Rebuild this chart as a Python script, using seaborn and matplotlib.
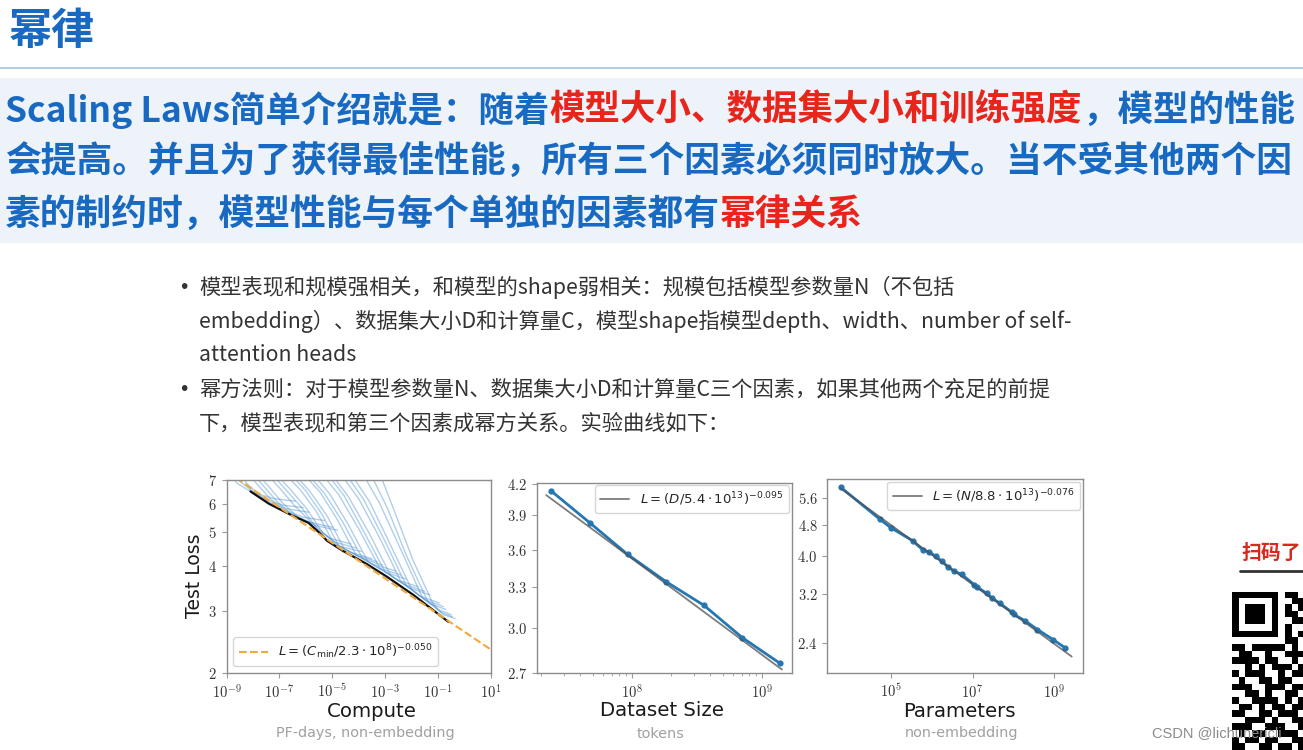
import numpy as np
import pandas as pd
import matplotlib
matplotlib.use("Agg")
import matplotlib.pyplot as plt
from matplotlib.font_manager import FontProperties
from matplotlib.lines import Line2D
from matplotlib.patches import Rectangle
from matplotlib.ticker import FixedLocator, LogLocator, NullLocator, NullFormatter
import seaborn as sns

W, H = 1303, 750
BLUE_TXT = "#1769c1"
RED_TXT = "#e8241b"

# ---- slide text ----
TITLE = "幂律"
BANNER_RUNS = [
    [("Scaling Laws简单介绍就是：随着", BLUE_TXT), ("模型大小、数据集大小和训练强度", RED_TXT), ("，模型的性能", BLUE_TXT)],
    [("会提高。并且为了获得最佳性能，所有三个因素必须同时放大。当不受其他两个因", BLUE_TXT)],
    [("素的制约时，模型性能与每个单独的因素都有", BLUE_TXT), ("幂律关系", RED_TXT)],
]
BULLET_LINES = [
    "模型表现和规模强相关，和模型的shape弱相关：规模包括模型参数量N（不包括",
    "embedding）、数据集大小D和计算量C，模型shape指模型depth、width、number of self-",
    "attention heads",
    "幂方法则：对于模型参数量N、数据集大小D和计算量C三个因素，如果其他两个充足的前提",
    "下，模型表现和第三个因素成幂方关系。实验曲线如下：",
]
BULLET_MARK = [True, False, False, True, False]

# ---- panel 1: compute ----
FRONTIER_LOGC = [-8.1, -7.4, -6.5, -5.9, -5.5, -5.2, -4.6, -3.7, -2.94, -1.93, -0.61]
FRONTIER_LOSS = [6.5, 6.0, 5.55, 5.3, 4.98, 4.72, 4.42, 4.06, 3.74, 3.32, 2.79]
COMPUTE_FIT_C = [1e-9, 1e1]
COMPUTE_FIT_LOSS = [7.38, 2.33]
RUN_LOGC = [
    [-8.9, -8.6, -8.25, -7.9, -7.2, -6.4],
    [-8.72, -8.4, -8.0, -7.6, -6.9, -6.1],
    [-8.55, -8.2, -7.8, -7.4, -6.7, -5.9],
    [-8.2, -7.8, -7.35, -6.85, -6.1, -5.3],
    [-8.0, -7.6, -7.1, -6.6, -5.85, -5.0],
    [-7.85, -7.4, -6.9, -6.3, -5.6, -4.8],
    [-7.5, -7.0, -6.45, -5.8, -5.1, -4.3],
    [-7.3, -6.8, -6.2, -5.55, -4.9, -4.1],
    [-7.15, -6.6, -6.0, -5.35, -4.7, -3.9],
    [-6.8, -6.2, -5.6, -4.95, -4.3, -3.5],
    [-6.6, -6.0, -5.4, -4.75, -4.1, -3.3],
    [-6.45, -5.85, -5.2, -4.55, -3.9, -3.1],
    [-6.1, -5.45, -4.8, -4.1, -3.45, -2.6],
    [-5.95, -5.3, -4.6, -3.85, -3.2, -2.4],
    [-5.75, -5.1, -4.4, -3.65, -3.0, -2.2],
    [-5.4, -4.75, -4.0, -3.2, -2.55, -1.75],
    [-5.2, -4.55, -3.8, -3.0, -2.3, -1.5],
    [-5.05, -4.4, -3.6, -2.8, -2.1, -1.3],
    [-4.7, -4.0, -3.2, -2.4, -1.7, -0.95],
    [-4.5, -3.8, -3.0, -2.2, -1.5, -0.8],
    [-4.3, -3.6, -2.8, -2.0, -1.35, -0.7],
    [-3.85, -3.2, -2.4, -1.6, -1.0, -0.5],
    [-3.55, -2.9, -2.2, -1.4, -0.9, -0.45],
    [-3.2, -2.6, -1.95, -1.2, -0.8, -0.35],
]
RUN_LOSS = [
    [7.3, 6.85, 6.6, 6.42, 6.2, 6.1],
    [7.3, 6.85, 6.5, 6.2, 5.95, 5.85],
    [7.3, 6.8, 6.4, 6.06, 5.8, 5.68],
    [7.3, 6.75, 6.2, 5.78, 5.5, 5.38],
    [7.3, 6.72, 6.1, 5.65, 5.32, 5.15],
    [7.3, 6.7, 6.05, 5.5, 5.2, 5.05],
    [7.3, 6.65, 5.95, 5.32, 4.8, 4.62],
    [7.3, 6.62, 5.9, 5.08, 4.68, 4.5],
    [7.3, 6.6, 5.85, 4.95, 4.55, 4.4],
    [7.3, 6.55, 5.7, 4.65, 4.38, 4.2],
    [7.3, 6.52, 5.62, 4.56, 4.3, 4.12],
    [7.3, 6.5, 5.55, 4.48, 4.22, 4.03],
    [7.3, 6.45, 5.4, 4.3, 4.05, 3.88],
    [7.3, 6.42, 5.32, 4.2, 3.94, 3.78],
    [7.3, 6.4, 5.25, 4.12, 3.85, 3.68],
    [7.3, 6.35, 5.1, 3.95, 3.66, 3.5],
    [7.3, 6.32, 5.0, 3.86, 3.56, 3.4],
    [7.3, 6.3, 4.95, 3.78, 3.48, 3.32],
    [7.3, 6.2, 4.8, 3.62, 3.3, 3.15],
    [7.3, 6.15, 4.7, 3.53, 3.22, 3.08],
    [7.3, 6.1, 4.6, 3.45, 3.15, 3.02],
    [7.3, 6.0, 4.45, 3.28, 3.02, 2.92],
    [7.3, 5.8, 4.3, 3.2, 2.97, 2.88],
    [7.3, 5.6, 4.17, 3.15, 2.92, 2.85],
]
COMPUTE_XTICK_EXP = [-9, -7, -5, -3, -1, 1]
COMPUTE_YTICKS = [2, 3, 4, 5, 6, 7]

# ---- panel 2: dataset size ----
TOKENS = [2.4e7, 4.8e7, 9.3e7, 1.84e8, 3.6e8, 7.1e8, 1.38e9]
TOKENS_LOSS = [4.13, 3.83, 3.56, 3.34, 3.16, 2.93, 2.76]
TOKENS_FIT_X = [2.2e7, 1.43e9]
TOKENS_FIT_LOSS = [4.09, 2.72]
TOKENS_XTICK_EXP = [8, 9]
TOKENS_YTICKS = [2.7, 3.0, 3.3, 3.6, 3.9, 4.2]

# ---- panel 3: parameters ----
PARAMS = [5.9e3, 5.4e4, 9.8e4, 3.5e5, 6.2e5, 8.7e5, 1.26e6, 1.74e6, 2.5e6, 3.5e6, 5.4e6,
          1.1e7, 1.26e7, 2.24e7, 2.95e7, 4.7e7, 9.1e7, 1.02e8, 1.9e8, 3.9e8, 9.5e8, 1.82e9]
PARAMS_LOSS = [5.97, 4.95, 4.72, 4.36, 4.13, 4.09, 3.99, 3.88, 3.75, 3.66, 3.59,
               3.38, 3.34, 3.21, 3.13, 3.03, 2.88, 2.84, 2.74, 2.60, 2.45, 2.34]
PARAMS_FIT_X = [5.9e3, 2.7e9]
PARAMS_FIT_LOSS = [5.93, 2.22]
PARAMS_XTICK_EXP = [5, 7, 9]
PARAMS_YTICKS = [2.4, 3.2, 4.0, 4.8, 5.6]

# rough QR overlay in the corner (11 x 24 modules)
QR_ROWS = [
    "11111110110", "10000010011", "10111010101", "10111010110", "10111010011",
    "10000010100", "11111110101", "00000000110", "11011111010", "01100100111",
    "11110110010", "00101011101", "10111001011", "01001101100", "11100111011",
    "00110100110", "10011110101", "01101011011", "11001101110", "00111010011",
    "11100111001", "01011001110", "10110110011", "11001101101",
]

sns.set_theme(style="white")
plt.rcParams["font.family"] = ["Noto Sans CJK SC", "DejaVu Sans"]
plt.rcParams["mathtext.fontset"] = "cm"

fig = plt.figure(figsize=(W / 100, H / 100), dpi=100)
fig.patch.set_facecolor("white")
renderer = fig.canvas.get_renderer()


def fx(x):
    return x / W


def fy(y):
    return 1 - y / H


def px_axes(l, t, r, b):
    return fig.add_axes([fx(l), fy(b), (r - l) / W, (b - t) / H])


def runs_width(runs, size):
    total = 0
    for txt, _ in runs:
        t = fig.text(0, 0, txt, fontsize=size, fontweight="bold")
        total += t.get_window_extent(renderer=renderer).width
        t.remove()
    return total


def text_runs(x, y, runs, **kw):
    for txt, color in runs:
        t = fig.text(fx(x), fy(y), txt, color=color, ha="left", va="center", **kw)
        x += t.get_window_extent(renderer=renderer).width


# ---- header ----
fig.text(fx(9), fy(31), TITLE, color=BLUE_TXT, fontsize=31, fontweight="bold", va="center")
fig.add_artist(Line2D([0, 1], [fy(68), fy(68)], color="#a8c3dc", lw=1.2))
fig.add_artist(Rectangle((0, fy(243)), 1, (243 - 78) / H, color="#eef3f9", lw=0))

# banner lines fitted to the slide width
base = 26.0
size_main = base * 1288 / runs_width(BANNER_RUNS[1], base)
size_first = min(size_main, size_main * 1288 / runs_width(BANNER_RUNS[0], size_main))
for i, runs in enumerate(BANNER_RUNS):
    text_runs(5, 110 + 52 * i, runs, fontsize=size_first if i == 0 else size_main, fontweight="bold")

for i, line in enumerate(BULLET_LINES):
    y = 287 + 34.2 * i
    if BULLET_MARK[i]:
        fig.text(fx(178), fy(y), "•", color="#333333", fontsize=14, family="DejaVu Sans", va="center")
    fig.text(fx(199), fy(y), line, color="#333333", fontsize=15.3, va="center")


def style_axes(ax, xtick_exp, yticks, ylabels, minor_x=False):
    ax.set_xscale("log")
    ax.set_yscale("log")
    ax.xaxis.set_major_locator(FixedLocator([10.0 ** e for e in xtick_exp]))
    ax.set_xticklabels([rf"$10^{{{e}}}$" for e in xtick_exp])
    if minor_x:
        ax.xaxis.set_minor_locator(LogLocator(base=10, subs=np.arange(2, 10)))
    else:
        ax.xaxis.set_minor_locator(NullLocator())
    ax.xaxis.set_minor_formatter(NullFormatter())
    ax.yaxis.set_major_locator(FixedLocator(yticks))
    ax.set_yticklabels(ylabels)
    ax.yaxis.set_minor_locator(NullLocator())
    ax.yaxis.set_minor_formatter(NullFormatter())
    ax.tick_params(which="both", direction="out", colors="#999999", labelcolor="#333333",
                   labelsize=10.5, bottom=True, left=True)
    ax.tick_params(which="major", length=3.5, width=0.8)
    ax.tick_params(which="minor", length=2, width=0.6)
    for sp in ax.spines.values():
        sp.set_color("#8c8c8c")
        sp.set_linewidth(1.0)
    ax.set_xlabel("")
    ax.set_ylabel("")


legend_prop = FontProperties(family="DejaVu Sans", size=9.5, math_fontfamily="dejavusans")

# ---- panel 1 ----
ax1 = px_axes(226.7, 480, 490.7, 673)
runs = pd.DataFrame({
    "run": np.repeat(np.arange(len(RUN_LOGC)), [len(r) for r in RUN_LOGC]),
    "compute": 10.0 ** np.concatenate(RUN_LOGC),
    "loss": np.concatenate(RUN_LOSS),
})
ax1.set_xscale("log")
ax1.set_yscale("log")
sns.lineplot(data=runs, x="compute", y="loss", units="run", estimator=None, sort=False,
             color="#3b86cc", lw=1.0, alpha=0.4, ax=ax1)
sns.lineplot(x=10.0 ** np.array(FRONTIER_LOGC), y=FRONTIER_LOSS, estimator=None, sort=False,
             color="#111111", lw=1.6, ax=ax1)
sns.lineplot(x=COMPUTE_FIT_C, y=COMPUTE_FIT_LOSS, color="#f2a93b", lw=1.5, linestyle="--",
             ax=ax1, label=r"$L = (C_{\rm min}/2.3\cdot 10^{8})^{-0.050}$")
ax1.set_xlim(1e-9, 1e1)
ax1.set_ylim(2, 7)
style_axes(ax1, COMPUTE_XTICK_EXP, COMPUTE_YTICKS, [f"${v}$" for v in COMPUTE_YTICKS])
ax1.legend(loc="lower left", prop=legend_prop, handlelength=2.2, frameon=True,
           edgecolor="#cccccc", borderaxespad=0.5)

# ---- panel 2 ----
ax2 = px_axes(536.7, 482.7, 791.7, 672.7)
ax2.set_xscale("log")
ax2.set_yscale("log")
sns.lineplot(x=TOKENS, y=TOKENS_LOSS, color="#2277b4", lw=2.0, marker="o", markersize=4.5,
             markeredgewidth=0, estimator=None, sort=False, ax=ax2)
sns.lineplot(x=TOKENS_FIT_X, y=TOKENS_FIT_LOSS, color="#505050", lw=1.3, alpha=0.75, ax=ax2,
             label=r"$L = (D/5.4\cdot 10^{13})^{-0.095}$")
ax2.set_xlim(1.86e7, 1.7e9)
ax2.set_ylim(2.7, 4.21)
style_axes(ax2, TOKENS_XTICK_EXP, TOKENS_YTICKS, [f"${v:.1f}$" for v in TOKENS_YTICKS], minor_x=True)
ax2.legend(loc="upper right", prop=legend_prop, handlelength=2.2, frameon=True,
           edgecolor="#cccccc", borderaxespad=0.2)

# ---- panel 3 ----
ax3 = px_axes(827.3, 479, 1083, 672.7)
ax3.set_xscale("log")
ax3.set_yscale("log")
sns.lineplot(x=PARAMS, y=PARAMS_LOSS, color="#2277b4", lw=2.0, marker="o", markersize=4.5,
             markeredgewidth=0, estimator=None, sort=False, ax=ax3)
sns.lineplot(x=PARAMS_FIT_X, y=PARAMS_FIT_LOSS, color="#505050", lw=1.3, alpha=0.75, ax=ax3,
             label=r"$L = (N/8.8\cdot 10^{13})^{-0.076}$")
ax3.set_xlim(2.75e3, 5.1e9)
ax3.set_ylim(2.02, 6.27)
style_axes(ax3, PARAMS_XTICK_EXP, PARAMS_YTICKS, [f"${v:.1f}$" for v in PARAMS_YTICKS])
ax3.legend(loc="upper right", prop=legend_prop, handlelength=2.2, frameon=True,
           edgecolor="#cccccc", borderaxespad=0.2)

# axis captions
LABEL_FONT = dict(family="DejaVu Sans", color="#1a1a1a")
SUB_FONT = dict(family="DejaVu Sans", color="#a0a0a0", fontsize=10.4)
fig.text(fx(195), fy(576), "Test Loss", rotation=90, ha="center", va="center", fontsize=13.5, **LABEL_FONT)
for cx, cy, main, sx, sub in [(372, 711.5, "Compute", 365, "PF-days, non-embedding"),
                              (662, 710.7, "Dataset Size", 661, "tokens"),
                              (959, 711.5, "Parameters", 961, "non-embedding")]:
    fig.text(fx(cx), fy(cy), main, ha="center", va="center", fontsize=14.2, **LABEL_FONT)
    fig.text(fx(sx), fy(733.5), sub, ha="center", va="center", **SUB_FONT)

# ---- right-hand overlay ----
fig.text(fx(1241), fy(552), "扫码了", color="#d9281c", fontsize=14.3, fontweight="bold", va="center")
fig.add_artist(Line2D([fx(1240), 1], [fy(571), fy(571)], color="#333333", lw=2))
qr = np.array([[int(c) for c in row] for row in QR_ROWS])
ax_qr = fig.add_axes([fx(1231.7), fy(750), 72.6 / W, 158.3 / H])
ax_qr.imshow(qr, cmap="gray_r", interpolation="nearest", aspect="auto")
ax_qr.axis("off")
fig.text(fx(1152), fy(733), "CSDN @lichunericli", color="#8a8a8a", fontsize=10.5,
         family="Liberation Sans", va="center")

fig.savefig("out.png", dpi=100, facecolor="white")
